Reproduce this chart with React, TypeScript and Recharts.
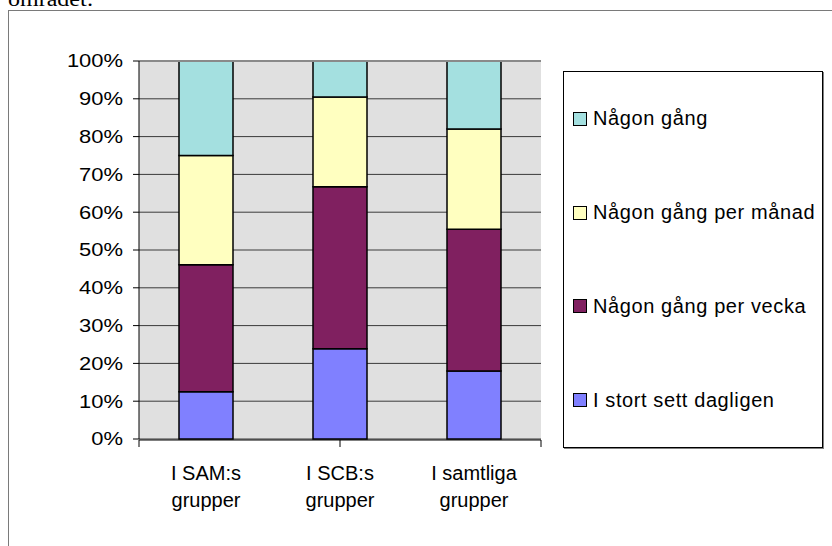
import React from "react";
import {
  BarChart,
  Bar,
  XAxis,
  YAxis,
  CartesianGrid,
  Legend,
  ReferenceLine,
} from "recharts";

const groups = ["I SAM:s grupper", "I SCB:s grupper", "I samtliga grupper"];
const dagligen = [12.5, 23.9, 18.0];
const perVecka = [33.6, 42.8, 37.5];
const perManad = [28.9, 23.8, 26.5];
const nagonGang = [25.0, 9.5, 18.0];
const yTicks = [0, 10, 20, 30, 40, 50, 60, 70, 80, 90, 100];
const groupEdges = [0, 1, 2, 3];

const series = [
  { key: "dagligen", name: "I stort sett dagligen", color: "#8080ff" },
  { key: "vecka", name: "Någon gång per vecka", color: "#802060" },
  { key: "manad", name: "Någon gång per månad", color: "#ffffc0" },
  { key: "gang", name: "Någon gång", color: "#a4e0e0" },
];

const data = groups.map((g, i) => ({
  group: g,
  dagligen: dagligen[i],
  vecka: perVecka[i],
  manad: perManad[i],
  gang: nagonGang[i],
}));

const FONT = '"Liberation Sans", Arial, sans-serif';

function GroupTick({ x, y, payload }: any) {
  const words = String(payload.value).split(" ");
  const last = words.pop();
  return (
    <text x={x} y={y} textAnchor="middle" fontSize={20} fontFamily={FONT} fill="#000">
      <tspan x={x} dy={41}>{words.join(" ")}</tspan>
      <tspan x={x} dy={27}>{last}</tspan>
    </text>
  );
}

function PercentTick({ x, y, payload }: any) {
  // the original picture is stretched sideways a little
  return (
    <text
      transform={`translate(${x},${y}) scale(1.22,1)`}
      textAnchor="end"
      dy="0.355em"
      fontSize={18}
      fontFamily={FONT}
      fill="#000"
    >
      {`${payload.value}%`}
    </text>
  );
}

function LegendBox() {
  const items = [...series].reverse();
  return (
    <div
      style={{
        boxSizing: "border-box",
        width: 260,
        height: 377,
        border: "1px solid #000",
        boxShadow: "1px 1px 0 #808080",
        background: "#fff",
        display: "flex",
        flexDirection: "column",
        justifyContent: "space-around",
        fontFamily: FONT,
        fontSize: 20,
        letterSpacing: 0.6,
        color: "#000",
      }}
    >
      {items.map((it) => (
        <div key={it.key} style={{ display: "flex", alignItems: "center", paddingLeft: 9 }}>
          <span
            style={{
              width: 12,
              height: 12,
              border: "1px solid #000",
              background: it.color,
              marginRight: 6,
              flex: "none",
            }}
          />
          <span style={{ whiteSpace: "nowrap" }}>{it.name}</span>
        </div>
      ))}
    </div>
  );
}

export default function App() {
  return (
    <div
      style={{
        position: "fixed",
        left: 0,
        top: 0,
        width: 832,
        height: 546,
        overflow: "hidden",
        background: "#fff",
      }}
    >
      <div
        style={{
          position: "absolute",
          left: 8,
          top: -11,
          fontFamily: '"Liberation Serif", "Times New Roman", serif',
          fontSize: 20,
          lineHeight: "20px",
          whiteSpace: "nowrap",
          transform: "scaleX(1.2)",
          transformOrigin: "left top",
        }}
      >
        området:
      </div>
      <div
        style={{
          position: "absolute",
          left: 8,
          top: 10,
          width: 900,
          height: 600,
          border: "1px solid #7a7a7a",
        }}
      />
      <div style={{ position: "absolute", left: 0, top: 0 }}>
        <BarChart
          width={832}
          height={546}
          data={data}
          margin={{ top: 61, right: 291, left: 0, bottom: 105 }}
          barSize={54}
        >
          <CartesianGrid
            vertical={false}
            fill="#e0e0e0"
            stroke="#3a3a3a"
            fillOpacity={1}
          />
          <XAxis
            xAxisId="edges"
            type="number"
            domain={[0, 3]}
            ticks={groupEdges}
            height={1}
            tickFormatter={() => ""}
            tickSize={7}
            axisLine={{ stroke: "#000" }}
            tickLine={{ stroke: "#000" }}
          />
          <XAxis
            dataKey="group"
            height={1}
            axisLine={false}
            tickLine={false}
            tickSize={0}
            tickMargin={0}
            interval={0}
            tick={<GroupTick />}
          />
          <YAxis
            width={139}
            domain={[0, 100]}
            ticks={yTicks}
            tickSize={6}
            tickMargin={10}
            axisLine={{ stroke: "#000" }}
            tickLine={{ stroke: "#000" }}
            tick={<PercentTick />}
          />
          <ReferenceLine y={100} stroke="#8a8a8a" strokeWidth={2} />
          <ReferenceLine xAxisId="edges" x={3} stroke="#8a8a8a" strokeWidth={1} />
          {series.map((s) => (
            <Bar
              key={s.key}
              dataKey={s.key}
              name={s.name}
              stackId="a"
              fill={s.color}
              stroke="#000"
              strokeWidth={1.5}
              isAnimationActive={false}
            />
          ))}
          <Legend
            layout="vertical"
            align="center"
            verticalAlign="middle"
            content={<LegendBox />}
            wrapperStyle={{ left: 563, top: 71, width: 260, height: 377 }}
          />
        </BarChart>
      </div>
    </div>
  );
}
